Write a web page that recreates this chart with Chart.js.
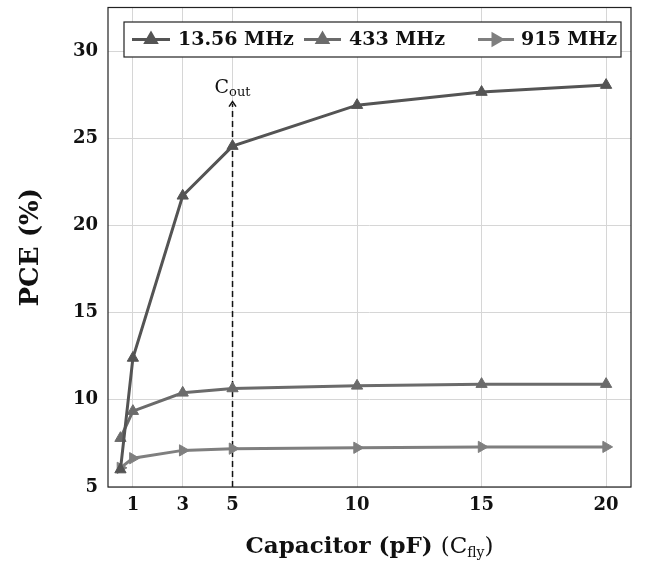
<!DOCTYPE html>
<html>
<head>
<meta charset="utf-8">
<script src="https://cdn.jsdelivr.net/npm/chart.js@4/dist/chart.umd.min.js"></script>
<style>
  html,body{margin:0;padding:0;background:#fff;}
  #wrap{width:656px;height:561px;}
</style>
</head>
<body>
<div id="wrap"><canvas id="c" width="656" height="561"></canvas></div>
<script>
// ---- data ----
const capacitance = [0.5, 1, 3, 5, 10, 15, 20];
const pce1356 = [6.0, 12.4, 21.7, 24.55, 26.9, 27.65, 28.05];
const pce433  = [7.8, 9.35, 10.4, 10.65, 10.8, 10.9, 10.9];
const pce915  = [6.1, 6.65, 7.1, 7.2, 7.25, 7.3, 7.3];
const seriesNames = ['13.56 MHz', '433 MHz', '915 MHz'];
const xTicks = [1, 3, 5, 10, 15, 20];
const yTicks = [5, 10, 15, 20, 25, 30];
const coutX = 5;
const coutArrowTop = 27.1;

const toPts = (ys) => capacitance.map((x, i) => ({x, y: ys[i]}));
const colors = ['#545454', '#6b6b6b', '#7f7f7f'];

const serif = '"DejaVu Serif", "Liberation Serif", serif';

const framePlugin = {
  id: 'frame',
  beforeDatasetsDraw(chart) {
    const {ctx, scales:{x, y}} = chart;
    const px = x.getPixelForValue(coutX);
    const yb = y.getPixelForValue(y.min);
    const yt = y.getPixelForValue(coutArrowTop);
    ctx.save();
    ctx.strokeStyle = '#111';
    ctx.lineWidth = 1.5;
    ctx.setLineDash([6, 4]);
    ctx.beginPath();
    ctx.moveTo(px, yb);
    ctx.lineTo(px, yt + 2);
    ctx.stroke();
    ctx.setLineDash([]);
    ctx.beginPath();
    ctx.moveTo(px - 3.5, yt + 5);
    ctx.lineTo(px, yt);
    ctx.lineTo(px + 3.5, yt + 5);
    ctx.stroke();
    // C_out label
    ctx.fillStyle = '#111';
    ctx.textBaseline = 'alphabetic';
    ctx.font = '19px ' + serif;
    const wC = ctx.measureText('C').width;
    ctx.font = '13px ' + serif;
    const wS = ctx.measureText('out').width;
    const start = px - (wC + wS) / 2;
    ctx.font = '19px ' + serif;
    ctx.fillText('C', start, yt - 9);
    ctx.font = '13px ' + serif;
    ctx.fillText('out', start + wC, yt - 6);
    ctx.restore();
  },
  afterDraw(chart) {
    const {ctx, chartArea:a} = chart;
    ctx.save();
    // frame
    ctx.strokeStyle = '#222';
    ctx.lineWidth = 1.2;
    ctx.strokeRect(a.left, a.top, a.right - a.left, a.bottom - a.top);

    // legend box
    const bx = 124, by = 22, bw = 497, bh = 35;
    ctx.fillStyle = '#fff';
    ctx.fillRect(bx, by, bw, bh);
    ctx.strokeStyle = '#222';
    ctx.lineWidth = 1.2;
    ctx.strokeRect(bx, by, bw, bh);
    const cy = by + bh / 2;
    const entries = [
      {x0: 132, x1: 170, tx: 178, rot: 0},
      {x0: 304, x1: 341, tx: 349, rot: 0},
      {x0: 478, x1: 514, tx: 521, rot: 90}
    ];
    ctx.font = 'bold 19px ' + serif;
    ctx.textBaseline = 'middle';
    entries.forEach((e, i) => {
      const ds = chart.data.datasets[i];
      ctx.strokeStyle = ds.borderColor;
      ctx.lineWidth = 3;
      ctx.beginPath();
      ctx.moveTo(e.x0, cy);
      ctx.lineTo(e.x1, cy);
      ctx.stroke();
      ctx.fillStyle = ds.borderColor;
      Chart.helpers.drawPoint(ctx, {pointStyle: 'triangle', rotation: e.rot, radius: 6, borderWidth: 1},
        (e.x0 + e.x1) / 2, cy);
      ctx.fillStyle = '#111';
      ctx.fillText(seriesNames[i], e.tx, cy + 1);
    });

    // x axis title
    ctx.fillStyle = '#111';
    ctx.textBaseline = 'alphabetic';
    const base = 553;
    const parts = [
      {t: 'Capacitor (pF) ', f: 'bold 23px ' + serif, dy: 0},
      {t: '(C', f: '23px ' + serif, dy: 0},
      {t: 'fly', f: '14px ' + serif, dy: 4},
      {t: ')', f: '23px ' + serif, dy: 0}
    ];
    let total = 0;
    parts.forEach(p => { ctx.font = p.f; p.w = ctx.measureText(p.t).width; total += p.w; });
    let cx = (a.left + a.right) / 2 - total / 2;
    parts.forEach(p => { ctx.font = p.f; ctx.fillText(p.t, cx, base + p.dy); cx += p.w; });

    // y axis title
    ctx.save();
    ctx.translate(38, (a.top + a.bottom) / 2);
    ctx.rotate(-Math.PI / 2);
    ctx.font = 'bold 26px ' + serif;
    ctx.textAlign = 'center';
    ctx.fillText('PCE (%)', 0, 0);
    ctx.restore();
    ctx.restore();
  }
};

const mk = (label, data, color, rot) => ({
  label, data,
  borderColor: color,
  backgroundColor: color,
  borderWidth: 3,
  pointStyle: 'triangle',
  rotation: rot,
  pointRadius: 6.5,
  pointHoverRadius: 6.5,
  pointBorderWidth: 1,
  tension: 0
});

new Chart(document.getElementById('c'), {
  type: 'line',
  data: {
    datasets: [
      mk(seriesNames[0], toPts(pce1356), colors[0], 0),
      mk(seriesNames[1], toPts(pce433), colors[1], 0),
      mk(seriesNames[2], toPts(pce915), colors[2], 90)
    ]
  },
  options: {
    responsive: false,
    animation: false,
    layout: {padding: {top: 7, right: 25, left: 0, bottom: 0}},
    plugins: {legend: {display: false}, tooltip: {enabled: false}},
    scales: {
      x: {
        type: 'linear',
        min: 0, max: 21,
        afterBuildTicks: (s) => { s.ticks = xTicks.map(v => ({value: v})); },
        afterFit: (s) => { s.height = 74; s.paddingLeft = 0; s.paddingRight = 0; },
        grid: {color: '#d6d6d6', lineWidth: 1, tickLength: 0, drawTicks: false},
        border: {display: false},
        ticks: {color: '#111', padding: 8, font: {family: serif, weight: 'bold', size: 18}, maxRotation: 0, autoSkip: false}
      },
      y: {
        type: 'linear',
        min: 5, max: 32.5,
        afterBuildTicks: (s) => { s.ticks = yTicks.map(v => ({value: v})); },
        afterFit: (s) => { s.width = 108; s.paddingTop = 0; s.paddingBottom = 0; },
        grid: {color: '#d6d6d6', lineWidth: 1, tickLength: 0, drawTicks: false},
        border: {display: false},
        ticks: {color: '#111', padding: 10, font: {family: serif, weight: 'bold', size: 18}}
      }
    }
  },
  plugins: [framePlugin]
});
</script>
</body>
</html>
